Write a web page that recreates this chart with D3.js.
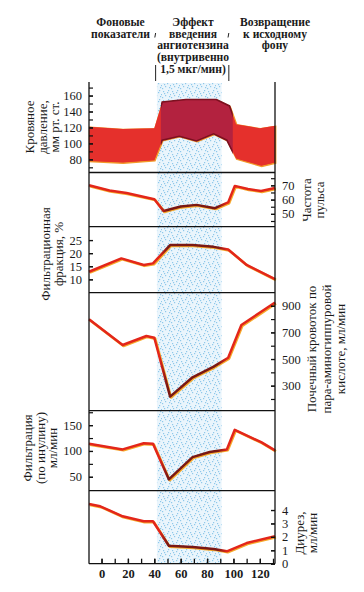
<!DOCTYPE html>
<html><head><meta charset="utf-8">
<script src="https://d3js.org/d3.v7.min.js"></script>
<style>
body{margin:0;background:#fff;}
svg text{font-family:"Liberation Serif","Times New Roman",serif;fill:#1a1a1a;}
</style></head>
<body><svg id="c" width="364" height="592"></svg>
<script>
// ---------- DATA ----------
const timeBPsys = [-9.5, 16, 40, 46, 64, 87, 97, 102, 120, 131.5];
const bpSystolic = [121, 118, 119, 152, 155, 155, 147, 124, 119, 122];
const timeBPdia = [-9.5, 16, 40, 46, 59, 72, 85, 95, 102, 121, 131.5];
const bpDiastolic = [78, 76, 79, 104, 109, 103, 112, 104, 81, 72, 76];

const timePulse = [-9.5, 6, 19, 40, 47, 60, 72, 86, 96, 101, 111, 121, 131.5];
const pulseRate = [70, 66.4, 64.6, 60.3, 52, 55.2, 56.3, 54, 58, 69.6, 67.4, 66, 68.1];

const timeFF = [-9.5, 15, 32, 39, 52, 69, 85, 96, 110, 131.5];
const filtrationFraction = [12.9, 18, 15.5, 16.1, 23.1, 23.1, 22.4, 21.4, 15.5, 10.1];

const timeRBF = [-9.5, 16, 34, 40, 52, 69, 85, 96, 106, 131.5];
const renalBloodFlow = [798, 605, 673, 660, 218, 363, 443, 510, 755, 925];

const timeGFR = [-9.5, 16, 32, 39, 51, 69, 82, 95, 101, 121, 131.5];
const inulinFiltration = [114, 103, 115, 114, 45, 88, 98, 103, 141, 117, 101];

const timeUrine = [-9.5, -1, 16, 32, 39, 51, 69, 85, 95, 110, 131.5];
const diuresis = [4.45, 4.28, 3.53, 3.16, 3.16, 1.34, 1.24, 1.1, 0.92, 1.54, 2.04];

const xTickLabels = [0, 20, 40, 60, 80, 100, 120];
const infusionPeriod = [42, 91];

const headerCol1 = ["Фоновые", "показатели"];
const headerCol2 = ["Эффект", "введения", "ангиотензина", "(внутривенно", "1,5 мкг/мин)"];
const headerCol3 = ["Возвращение", "к исходному", "фону"];

const bpTicks = [80, 100, 120, 140, 160];
const pulseTicks = [50, 60, 70];
const ffTicks = [10, 15, 20, 25];
const rbfTicks = [300, 500, 700, 900];
const gfrTicks = [50, 100, 150];
const urineTicks = [0, 1, 2, 3, 4];

// ---------- LAYOUT ----------
const svg = d3.select("#c");
const X0 = 89, X1 = 275;
const x = d3.scaleLinear().domain([-9.5, 131.5]).range([X0, X1]);

const panels = [
  {top: 82,    bot: 172.5, dom: [63.5, 177], side: "left",  ticks: bpTicks,    minor: d3.range(70, 171, 10),
   label: ["Кровяное", "давление,", "мм рт. ст."], lx: [34, 46.5, 59], ly: 127},
  {top: 172.5, bot: 226.7, dom: [41, 79],    side: "right", ticks: pulseTicks, minor: d3.range(45, 76, 5),
   t: timePulse, v: pulseRate, label: ["Частота", "пульса"], lx: [311, 324], ly: 200},
  {top: 226.7, bot: 292.7, dom: [4.9, 30.1], side: "left",  ticks: ffTicks,    minor: ffTicks,
   t: timeFF, v: filtrationFraction, label: ["Фильтрационная", "фракция, %"], lx: [50, 63], ly: 254},
  {top: 292.7, bot: 410.7, dom: [112, 998],  side: "right", ticks: rbfTicks,   minor: d3.range(200, 901, 100),
   t: timeRBF, v: renalBloodFlow, label: ["Почечный кровоток по", "пара-аминогиппуровой", "кислоте, мл/мин"], lx: [316, 330.5, 345], ly: 349},
  {top: 410.7, bot: 490.7, dom: [23, 178],   side: "left",  ticks: gfrTicks,   minor: d3.range(50, 176, 25),
   t: timeGFR, v: inulinFiltration, label: ["Фильтрация", "(по инулину)", "мл/мин"], lx: [32, 44.5, 57], ly: 448},
  {top: 490.7, bot: 563.7, dom: [0, 5.44],   side: "right", ticks: urineTicks, minor: urineTicks,
   t: timeUrine, v: diuresis, label: ["Диурез,", "мл/мин"], lx: [304, 317], ly: 533}
];
panels.forEach(p => p.y = d3.scaleLinear().domain(p.dom).range([p.bot, p.top]));

// ---------- DEFS ----------
const defs = svg.append("defs");
const pat = defs.append("pattern").attr("id", "speck").attr("patternUnits", "userSpaceOnUse")
  .attr("width", 9).attr("height", 9);
pat.append("rect").attr("width", 9).attr("height", 9).attr("fill", "#eaf5fc");
[[1,1],[5,2],[3,5],[7,6],[0,7],[6,0],[2,3],[8,4]].forEach(([a,b]) =>
  pat.append("rect").attr("x", a).attr("y", b).attr("width", 1.2).attr("height", 1.2).attr("fill", "#8fc8ea"));

const grad = defs.append("linearGradient").attr("id", "lineGrad")
  .attr("gradientUnits", "userSpaceOnUse").attr("x1", X0).attr("x2", X1).attr("y1", 0).attr("y2", 0);
const gx = v => (x(v) - X0) / (X1 - X0);
[[gx(44), "#e3261a"], [gx(50), "#7a1814"], [gx(88), "#7a1814"], [gx(95), "#e3261a"]]
  .forEach(([o, c]) => grad.append("stop").attr("offset", o).attr("stop-color", c));

defs.append("clipPath").attr("id", "midClip").append("rect")
  .attr("x", x(45)).attr("y", 80).attr("width", x(99.5) - x(45)).attr("height", 100);

// ---------- INFUSION SHADING ----------
svg.append("rect").attr("x", x(infusionPeriod[0])).attr("width", x(infusionPeriod[1]) - x(infusionPeriod[0]))
  .attr("y", 83).attr("height", 563.7 - 83).attr("fill", "url(#speck)");

// ---------- BLOOD PRESSURE BAND ----------
const p0 = panels[0];
const upper = timeBPsys.map((t, i) => [x(t), p0.y(bpSystolic[i])]);
const lower = timeBPdia.map((t, i) => [x(t), p0.y(bpDiastolic[i])]);
const band = d3.line()(upper.concat(lower.slice().reverse())) + "Z";
svg.append("path").attr("d", band).attr("fill", "#e8322b")
  .attr("stroke", "#f29a2a").attr("stroke-width", 1.6).attr("transform", "translate(0.6,0.6)");
svg.append("path").attr("d", band).attr("fill", "#e5302c");
svg.append("path").attr("d", band).attr("fill", "#b3223f").attr("stroke", "#7c1020")
  .attr("stroke-width", 1.6).attr("clip-path", "url(#midClip)");

// ---------- LINES ----------
panels.slice(1).forEach(p => {
  const pts = p.t.map((t, i) => [x(t), p.y(p.v[i])]);
  const d = d3.line()(pts);
  svg.append("path").attr("d", d).attr("fill", "none").attr("stroke", "#f6aa2a")
    .attr("stroke-width", 2.6).attr("stroke-linejoin", "round").attr("transform", "translate(0.9,0.9)");
  svg.append("path").attr("d", d).attr("fill", "none").attr("stroke", "url(#lineGrad)")
    .attr("stroke-width", 2.5).attr("stroke-linejoin", "round");
});

// ---------- FRAME ----------
const frame = svg.append("g").attr("stroke", "#111").attr("stroke-width", 1.3);
frame.append("line").attr("x1", X0).attr("x2", X0).attr("y1", 82).attr("y2", 563.7);
frame.append("line").attr("x1", X1).attr("x2", X1).attr("y1", 82).attr("y2", 563.7);
panels.forEach(p => frame.append("line").attr("x1", X0).attr("x2", X1).attr("y1", p.bot).attr("y2", p.bot));

// ---------- Y AXES ----------
panels.forEach(p => {
  const isL = p.side === "left";
  const xpos = isL ? X0 : X1;
  const mk = isL ? d3.axisLeft : d3.axisRight;
  const gm = svg.append("g").attr("transform", `translate(${xpos},0)`)
    .call(mk(p.y).tickValues(p.minor).tickSize(-4).tickFormat(""));
  const g = svg.append("g").attr("transform", `translate(${xpos},0)`)
    .call(mk(p.y).tickValues(p.ticks).tickSize(-4).tickPadding(7).tickFormat(d3.format("d")));
  [gm, g].forEach(a => {
    a.select(".domain").remove();
    a.selectAll("line").attr("stroke", "#111").attr("stroke-width", 1.2);
  });
  g.selectAll("text").attr("font-size", 12.5).attr("fill", "#1a1a1a")
    .style("font-family", '"Liberation Serif", serif');
  p.label.forEach((s, i) => {
    svg.append("text").attr("transform", `translate(${p.lx[i]},${p.ly}) rotate(-90)`)
      .attr("text-anchor", "middle").attr("font-size", 13).text(s);
  });
});

// ---------- X AXIS ----------
const xb = svg.append("g").attr("transform", "translate(0,563.7)");
xb.call(d3.axisBottom(x).tickValues(d3.range(0, 131, 10)).tickSize(-5).tickFormat(""));
const xl = svg.append("g").attr("transform", "translate(0,563.7)");
xl.call(d3.axisBottom(x).tickValues(xTickLabels).tickSize(-5).tickPadding(5).tickFormat(d3.format("d")));
[xb, xl].forEach(a => { a.select(".domain").remove(); a.selectAll("line").attr("stroke", "#111").attr("stroke-width", 1.3); });
xl.selectAll("text").attr("font-size", 12.5).attr("font-weight", "bold").attr("fill", "#1a1a1a")
  .style("font-family", '"Liberation Serif", serif');

// ---------- HEADERS ----------
const hdr = (lines, cx) => lines.forEach((s, i) =>
  svg.append("text").attr("x", cx).attr("y", 26 + i * 11.7).attr("text-anchor", "middle")
    .attr("font-size", 11.6).attr("font-weight", "bold").text(s));
hdr(headerCol1, 120.5);
hdr(headerCol2, 193);
hdr(headerCol3, 275);

const br = svg.append("g").attr("stroke", "#222").attr("stroke-width", 1);
[x(41), x(96.5)].forEach(bx => {
  br.append("line").attr("x1", bx).attr("x2", bx).attr("y1", 65).attr("y2", 81);
  br.append("line").attr("x1", bx).attr("x2", bx - 0.8).attr("y1", 33).attr("y2", 37.5);
});
</script></body></html>
